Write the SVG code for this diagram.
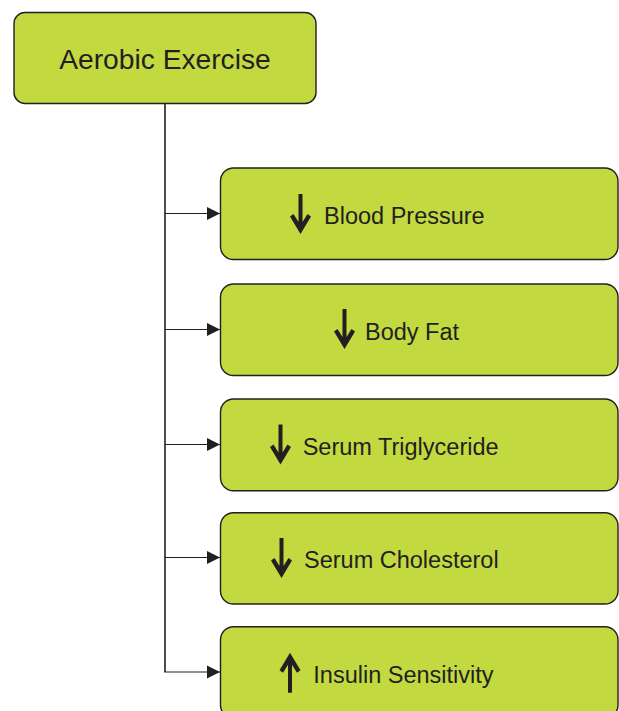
<svg xmlns="http://www.w3.org/2000/svg" width="619" height="711" viewBox="0 0 619 711">
<style>
.box{fill:#c2d940;stroke:#231f20;stroke-width:1.4}
.lbl{font-family:"Liberation Sans",Arial,sans-serif;fill:#231f20}
.conn{stroke:#231f20;fill:none}
.ind{fill:#231f20;stroke:none}
</style>
<defs>
<marker id="ah" markerWidth="14" markerHeight="14" refX="13" refY="7" orient="auto" markerUnits="userSpaceOnUse">
<path d="M0,0.5 L13,7 L0,13.5 Z" fill="#231f20"/>
</marker>
<path id="down" d="M-2,0 H2 V28 L7,20 L10.5,22.5 L0,40 L-10.5,22.5 L-7,20 L-2,28 Z"/>
</defs>
<g id="connectors">
<line class="conn" x1="165" y1="103" x2="165" y2="672" stroke-width="1.6"/>
<path class="conn" d="M165,213.5 H220" stroke-width="1.1" marker-end="url(#ah)"/>
<path class="conn" d="M165,329.5 H220" stroke-width="1.1" marker-end="url(#ah)"/>
<path class="conn" d="M165,444.5 H220" stroke-width="1.1" marker-end="url(#ah)"/>
<path class="conn" d="M165,557.5 H220" stroke-width="1.1" marker-end="url(#ah)"/>
<path class="conn" d="M164.2,672 H220" stroke-width="1.1" marker-end="url(#ah)"/>
</g>
<g id="aerobic-exercise">
<rect class="box" x="14" y="12.5" width="302" height="91" rx="11"/>
<text class="lbl" x="165" y="68.5" font-size="28.2" text-anchor="middle">Aerobic Exercise</text>
</g>
<g id="blood-pressure">
<rect class="box" x="220.5" y="168" width="397.5" height="91.5" rx="13"/>
<use href="#down" class="ind" transform="translate(300.5,194)"/>
<text class="lbl" x="324" y="224.3" font-size="23.5">Blood Pressure</text>
</g>
<g id="body-fat">
<rect class="box" x="220.5" y="284" width="397.5" height="91.5" rx="13"/>
<use href="#down" class="ind" transform="translate(344.5,309)"/>
<text class="lbl" x="365" y="340" font-size="23.5">Body Fat</text>
</g>
<g id="serum-triglyceride">
<rect class="box" x="220.5" y="399" width="397.5" height="91.7" rx="13"/>
<use href="#down" class="ind" transform="translate(280.5,424.5)"/>
<text class="lbl" x="302.7" y="455" font-size="23.5">Serum Triglyceride</text>
</g>
<g id="serum-cholesterol">
<rect class="box" x="220.5" y="512.7" width="397.5" height="91.3" rx="13"/>
<use href="#down" class="ind" transform="translate(281.5,538)"/>
<text class="lbl" x="304" y="567.7" font-size="23.5">Serum Cholesterol</text>
</g>
<g id="insulin-sensitivity">
<rect class="box" x="220.5" y="626.7" width="397.5" height="91.5" rx="13"/>
<use href="#down" class="ind" transform="translate(290,692.7) scale(1,-1)"/>
<text class="lbl" x="313.3" y="682.7" font-size="23.5">Insulin Sensitivity</text>
</g>
</svg>
